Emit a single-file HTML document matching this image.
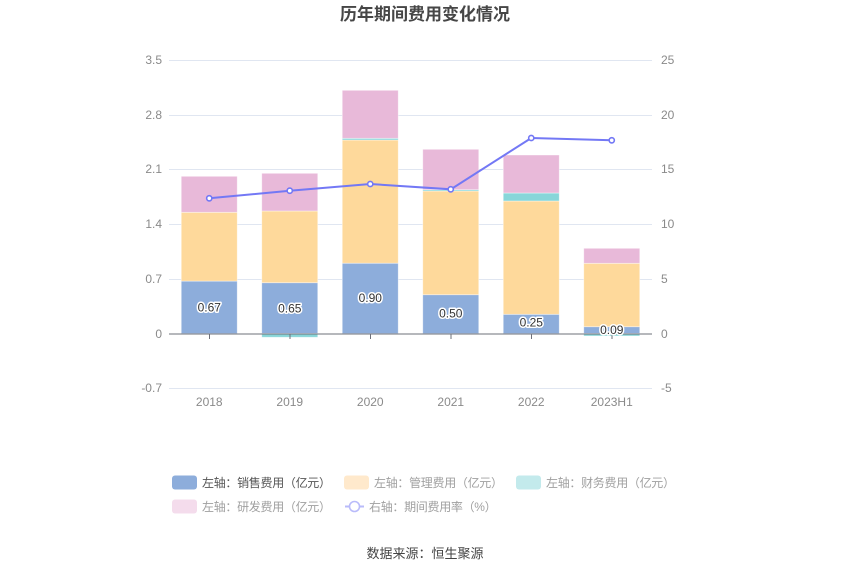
<!DOCTYPE html>
<html>
<head>
<meta charset="utf-8">
<style>
html,body{margin:0;padding:0;background:#fff;}
svg{display:block;font-family:"Liberation Sans","Noto Sans CJK SC",sans-serif;}
</style>
</head>
<body>
<svg width="850" height="575" viewBox="0 0 850 575" xmlns="http://www.w3.org/2000/svg">
<rect width="850" height="575" fill="#fff"/>
<text x="425" y="20" text-anchor="middle" font-size="17" font-weight="bold" fill="#464646" font-family="'Liberation Sans','Noto Sans CJK SC',sans-serif">历年期间费用变化情况</text>

<!-- grid -->
<g stroke="#e0e6f1" stroke-width="1">
<line x1="169" y1="60.5" x2="652" y2="60.5"/>
<line x1="169" y1="115.5" x2="652" y2="115.5"/>
<line x1="169" y1="169.5" x2="652" y2="169.5"/>
<line x1="169" y1="224.5" x2="652" y2="224.5"/>
<line x1="169" y1="279.5" x2="652" y2="279.5"/>
<line x1="169" y1="388.5" x2="652" y2="388.5"/>
</g>

<!-- left axis labels -->
<g font-size="12" fill="#8a8a8a" text-anchor="end">
<text x="162" y="64">3.5</text>
<text x="162" y="119">2.8</text>
<text x="162" y="173">2.1</text>
<text x="162" y="228">1.4</text>
<text x="162" y="283">0.7</text>
<text x="162" y="338">0</text>
<text x="162" y="392">-0.7</text>
</g>
<!-- right axis labels -->
<g font-size="12" fill="#8a8a8a" text-anchor="start">
<text x="661" y="64">25</text>
<text x="661" y="119">20</text>
<text x="661" y="173">15</text>
<text x="661" y="228">10</text>
<text x="661" y="283">5</text>
<text x="661" y="338">0</text>
<text x="661" y="392">-5</text>
</g>

<!-- bars -->
<g stroke="#ffffff" stroke-opacity="0.5" stroke-width="0.8">
<!-- 2018 -->
<rect x="181.25" y="281.1" width="56" height="52.4" fill="#8daddb"/>
<rect x="181.25" y="212.3" width="56" height="68.8" fill="#fed99b"/>
<rect x="181.25" y="176.3" width="56" height="36" fill="#e8b9d9"/>
<!-- 2019 -->
<rect x="261.75" y="282.7" width="56" height="50.8" fill="#8daddb"/>
<rect x="261.75" y="211" width="56" height="71.7" fill="#fed99b"/>
<rect x="261.75" y="173.3" width="56" height="37.7" fill="#e8b9d9"/>
<rect x="261.75" y="333.5" width="56" height="3.8" fill="#88d6d9"/>
<!-- 2020 -->
<rect x="342.25" y="263.2" width="56" height="70.3" fill="#8daddb"/>
<rect x="342.25" y="140" width="56" height="123.2" fill="#fed99b"/>
<rect x="342.25" y="138.3" width="56" height="1.7" fill="#88d6d9"/>
<rect x="342.25" y="90.3" width="56" height="48" fill="#e8b9d9"/>
<!-- 2021 -->
<rect x="422.75" y="294.7" width="56" height="38.8" fill="#8daddb"/>
<rect x="422.75" y="191" width="56" height="103.7" fill="#fed99b"/>
<rect x="422.75" y="189.7" width="56" height="1.3" fill="#88d6d9"/>
<rect x="422.75" y="149.3" width="56" height="40.4" fill="#e8b9d9"/>
<!-- 2022 -->
<rect x="503.25" y="314.3" width="56" height="19.2" fill="#8daddb"/>
<rect x="503.25" y="201" width="56" height="113.3" fill="#fed99b"/>
<rect x="503.25" y="193" width="56" height="8" fill="#88d6d9"/>
<rect x="503.25" y="155" width="56" height="38" fill="#e8b9d9"/>
<!-- 2023H1 -->
<rect x="583.75" y="326.7" width="56" height="6.8" fill="#8daddb"/>
<rect x="583.75" y="263.3" width="56" height="63.4" fill="#fed99b"/>
<rect x="583.75" y="248.3" width="56" height="15" fill="#e8b9d9"/>
<rect x="583.75" y="333.5" width="56" height="2.5" fill="#88d6d9"/>
</g>

<!-- x axis -->
<line x1="169" y1="334" x2="652" y2="334" stroke="#6e7079" stroke-width="1"/>
<g stroke="#6e7079" stroke-width="1">
<line x1="209.5" y1="334" x2="209.5" y2="339"/>
<line x1="290" y1="334" x2="290" y2="339"/>
<line x1="370.5" y1="334" x2="370.5" y2="339"/>
<line x1="451" y1="334" x2="451" y2="339"/>
<line x1="531.5" y1="334" x2="531.5" y2="339"/>
<line x1="612" y1="334" x2="612" y2="339"/>
</g>
<g font-size="12" fill="#8a8a8a" text-anchor="middle">
<text x="209.25" y="406">2018</text>
<text x="289.75" y="406">2019</text>
<text x="370.25" y="406">2020</text>
<text x="450.75" y="406">2021</text>
<text x="531.25" y="406">2022</text>
<text x="611.75" y="406">2023H1</text>
</g>

<!-- bar labels -->
<g font-size="12" text-anchor="middle" fill="#333" stroke="#fff" stroke-width="3" paint-order="stroke" stroke-linejoin="round">
<text x="209.25" y="311.5">0.67</text>
<text x="289.75" y="312.5">0.65</text>
<text x="370.25" y="302">0.90</text>
<text x="450.75" y="317.5">0.50</text>
<text x="531.25" y="326.5">0.25</text>
<text x="611.75" y="334">0.09</text>
</g>

<!-- line -->
<polyline points="209.25,198.3 289.75,190.7 370.25,184 450.75,189.3 531.25,138 611.75,140.3" fill="none" stroke="#7378f5" stroke-width="2"/>
<g fill="#fff" stroke="#7378f5" stroke-width="1.6">
<circle cx="209.25" cy="198.3" r="2.6"/>
<circle cx="289.75" cy="190.7" r="2.6"/>
<circle cx="370.25" cy="184" r="2.6"/>
<circle cx="450.75" cy="189.3" r="2.6"/>
<circle cx="531.25" cy="138" r="2.6"/>
<circle cx="611.75" cy="140.3" r="2.6"/>
</g>

<!-- legend -->
<g font-size="12" letter-spacing="-0.3">
<rect x="172" y="475.5" width="25" height="14" rx="3" fill="#8daddb"/>
<text x="202" y="487" fill="#555">左轴：销售费用（亿元）</text>
<rect x="344" y="475.5" width="25" height="14" rx="3" fill="#ffe9cc"/>
<text x="374" y="487" fill="#a0a0a0">左轴：管理费用（亿元）</text>
<rect x="516" y="475.5" width="25" height="14" rx="3" fill="#c3eaec"/>
<text x="546" y="487" fill="#a0a0a0">左轴：财务费用（亿元）</text>
<rect x="172" y="499.5" width="25" height="14" rx="3" fill="#f4dcec"/>
<text x="202" y="511" fill="#a0a0a0">左轴：研发费用（亿元）</text>
<line x1="345" y1="506.5" x2="364" y2="506.5" stroke="#b9bbfa" stroke-width="2"/>
<circle cx="354.5" cy="506.5" r="5" fill="#fff" stroke="#b9bbfa" stroke-width="1.6"/>
<text x="369" y="511" fill="#a0a0a0">右轴：期间费用率（%）</text>
</g>

<text x="425" y="558" text-anchor="middle" font-size="13" fill="#444">数据来源：恒生聚源</text>
</svg>
</body>
</html>
